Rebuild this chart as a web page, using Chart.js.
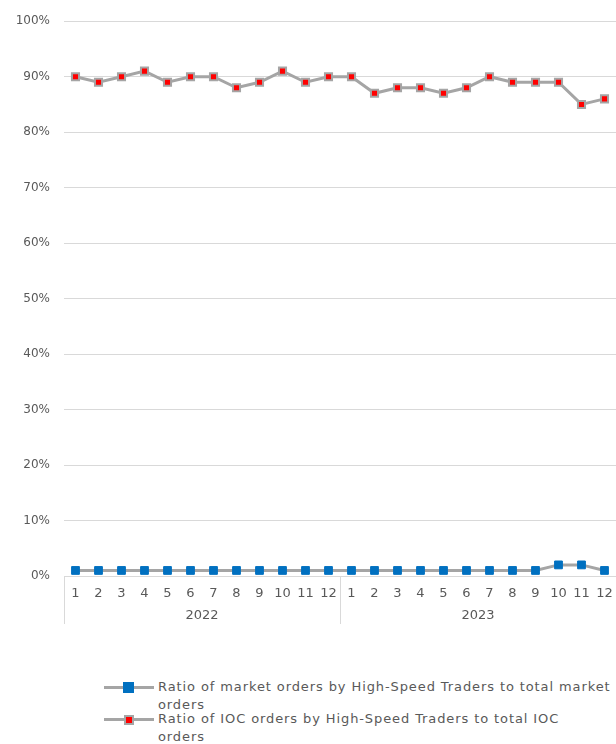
<!DOCTYPE html>
<html>
<head>
<meta charset="utf-8">
<script src="https://cdn.jsdelivr.net/npm/chart.js@4.4.0/dist/chart.umd.min.js"></script>
<style>
  body { margin: 0; background: #fff; font-family: "DejaVu Sans", sans-serif; }
  #wrap { position: relative; width: 616px; height: 744px; overflow: hidden; }
  #legend { position: absolute; left: 104px; top: 678px; width: 512px; color: #595959; font-size: 13px; letter-spacing: 0.9px; }
  .item { display: flex; align-items: flex-start; line-height: 18px; }
  .item + .item { margin-top: -4px; }
  .key { position: relative; flex: 0 0 50px; height: 18px; margin-right: 4px; }
  .key .ln { position: absolute; left: 0; right: 0; top: 8px; height: 3px; background: #a5a5a5; }
  .key .mk { position: absolute; }
  .txt { width: 458px; }
</style>
</head>
<body>
<div id="wrap">
  <canvas id="hstChart" width="616" height="660"></canvas>
  <div id="legend"></div>
</div>
<script>
// chart data
const years = ['2022', '2023'];
const months = ['1', '2', '3', '4', '5', '6', '7', '8', '9', '10', '11', '12'];
const yTicks = [0, 10, 20, 30, 40, 50, 60, 70, 80, 90, 100];

const seriesNames = [
    'Ratio of market orders by High-Speed Traders to total market orders',
    'Ratio of IOC orders by High-Speed Traders to total IOC orders'
];
const marketRatio = [1, 1, 1, 1, 1, 1, 1, 1, 1, 1, 1, 1,
                     1, 1, 1, 1, 1, 1, 1, 1, 1, 2, 2, 1];
const iocRatio = [90, 89, 90, 91, 89, 90, 90, 88, 89, 91, 89, 90,
                  90, 87, 88, 88, 87, 88, 90, 89, 89, 89, 85, 86];

const labels = [];
years.forEach(() => months.forEach(m => labels.push(m)));

const textColor = '#595959';
const lineGray = '#a5a5a5';

// second row of x labels (years) with separators
const yearRows = {
    id: 'yearRows',
    afterDraw(chart) {
        const ctx = chart.ctx;
        const x = chart.scales.x;
        const top = chart.chartArea.bottom;
        const n = months.length;
        ctx.save();
        ctx.strokeStyle = '#d9d9d9';
        ctx.lineWidth = 1;
        const edges = [x.left];
        for (let i = 1; i < years.length; i++) {
            edges.push((x.getPixelForValue(i * n - 1) + x.getPixelForValue(i * n)) / 2);
        }
        edges.push(x.right);
        edges.forEach(px => {
            ctx.beginPath();
            ctx.moveTo(Math.round(px) + 0.5, top);
            ctx.lineTo(Math.round(px) + 0.5, top + 48);
            ctx.stroke();
        });
        ctx.fillStyle = textColor;
        ctx.font = '13px "DejaVu Sans"';
        ctx.textAlign = 'center';
        ctx.textBaseline = 'middle';
        years.forEach((y, i) => {
            const cx = (x.getPixelForValue(i * n) + x.getPixelForValue(i * n + n - 1)) / 2;
            ctx.fillText(y, cx, top + 40);
        });
        ctx.restore();
    }
};

new Chart(document.getElementById('hstChart'), {
    type: 'line',
    data: {
        labels: labels,
        datasets: [{
            label: seriesNames[0],
            data: marketRatio,
            borderColor: lineGray,
            borderWidth: 3,
            pointStyle: 'rect',
            pointRadius: 5.5,
            pointBackgroundColor: '#0070c0',
            pointBorderColor: '#0070c0',
            pointBorderWidth: 1,
            tension: 0,
            clip: false
        }, {
            label: seriesNames[1],
            data: iocRatio,
            borderColor: lineGray,
            borderWidth: 3,
            pointStyle: 'rect',
            pointRadius: 5,
            pointBackgroundColor: '#ff0000',
            pointBorderColor: lineGray,
            pointBorderWidth: 2,
            tension: 0,
            clip: false
        }]
    },
    options: {
        responsive: false,
        animation: false,
        layout: { autoPadding: false, padding: { top: 21, right: 0, left: 0, bottom: 0 } },
        plugins: {
            legend: { display: false },
            tooltip: { enabled: false }
        },
        scales: {
            x: {
                offset: true,
                grid: { display: false },
                border: { display: true, color: '#d9d9d9' },
                ticks: {
                    color: textColor,
                    font: { family: 'DejaVu Sans', size: 13 },
                    padding: 2,
                    autoSkip: false,
                    maxRotation: 0
                },
                afterFit(scale) {
                    scale.height = 84;
                    scale.paddingRight = 0;
                    scale.paddingLeft = 0;
                }
            },
            y: {
                min: yTicks[0],
                max: yTicks[yTicks.length - 1],
                afterBuildTicks(scale) { scale.ticks = yTicks.map(v => ({ value: v })); },
                grid: { color: '#d9d9d9', drawTicks: false },
                border: { display: false },
                ticks: {
                    color: textColor,
                    font: { family: 'DejaVu Sans', size: 12 },
                    padding: 14,
                    callback: v => v + '%'
                },
                afterFit(scale) { scale.width = 64; }
            }
        }
    },
    plugins: [yearRows]
});

// html legend, last word on its own line as in the original
const legendEl = document.getElementById('legend');
const keys = [
    '<div class="mk" style="left:19px;top:4px;width:11px;height:11px;background:#0070c0"></div>',
    '<div class="mk" style="left:20px;top:5px;width:6px;height:6px;background:#ff0000;border:2px solid #a5a5a5"></div>'
];
seriesNames.forEach((name, i) => {
    legendEl.innerHTML += `
        <div class="item">
            <div class="key"><div class="ln"></div>${keys[i]}</div>
            <div class="txt">${name.replace(/ (\S+)$/, '<br>$1')}</div>
        </div>`;
});
</script>
</body>
</html>
